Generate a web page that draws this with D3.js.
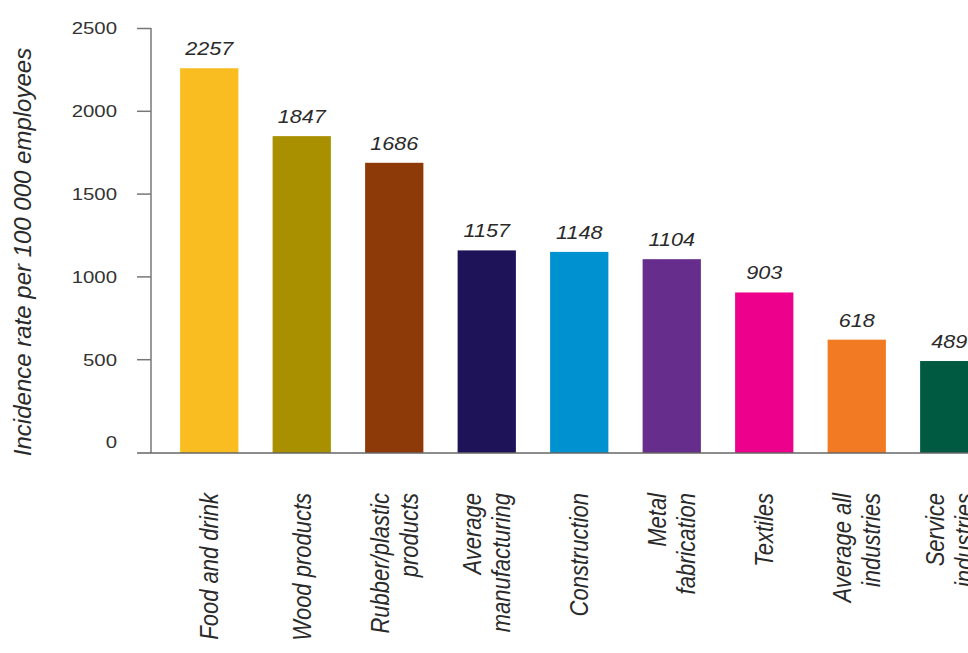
<!DOCTYPE html>
<html>
<head>
<meta charset="utf-8">
<script src="https://cdn.jsdelivr.net/npm/d3@7"></script>
<style>
  body { margin: 0; background: #fff; }
  svg text { font-family: "Liberation Sans", Arial, sans-serif; fill: #2a2a2a; }
</style>
</head>
<body>
<div id="vis"></div>
<script>
// chart data
const categories = ["Food and drink", "Wood products", "Rubber/plastic\nproducts", "Average\nmanufacturing",
  "Construction", "Metal\nfabrication", "Textiles", "Average all\nindustries", "Service\nindustries"]
const values = [2257, 1847, 1686, 1157, 1148, 1104, 903, 618, 489]
const colors = ["#f9bd22", "#a89000", "#8e3a08", "#1e1258", "#0092d0", "#662d8c", "#ec008c", "#f17a22", "#005a42"]
const yTicks = [0, 500, 1000, 1500, 2000, 2500]
const yTitle = "Incidence rate per 100 000 employees"

const width = 968
const height = 653
const baseY = 453   // where the baseline is drawn
const axisX = 151

const svg = d3.select("#vis")
  .append("svg")
  .attr("width", width)
  .attr("height", height)

// scales
const x = d3.scaleBand()
  .domain(categories)
  .range([163, 995.5])
  .paddingInner(0.37)
  .paddingOuter(0.185)

const y = d3.scaleLinear()
  .domain([0, 2500])
  .range([442, 28])

// bars
svg.selectAll(".bar")
  .data(values)
  .enter()
  .append("rect")
  .attr("class", "bar")
  .attr("x", (d, i) => x(categories[i]))
  .attr("width", x.bandwidth())
  .attr("y", d => y(d))
  .attr("height", d => baseY - y(d))
  .attr("fill", (d, i) => colors[i])

// value labels on top of bars
svg.selectAll(".val")
  .data(values)
  .enter()
  .append("text")
  .attr("class", "val")
  .attr("transform", (d, i) => `translate(${x(categories[i]) + x.bandwidth() / 2}, ${y(d) - 13}) scale(1.2,1)`)
  .attr("text-anchor", "middle")
  .style("font-size", "18px")
  .style("font-style", "italic")
  .text(d => d)

// y axis
const yAxis = svg.append("g")
  .attr("transform", `translate(${axisX},0)`)
  .call(d3.axisLeft(y).tickValues(yTicks).tickSize(14).tickPadding(0).tickFormat(d3.format("d")))

yAxis.select(".domain").remove()
yAxis.selectAll(".tick line").attr("stroke", "#777").attr("stroke-width", 1.5)
yAxis.selectAll(".tick").filter(d => d === 0).select("line").remove()
yAxis.selectAll(".tick text")
  .attr("x", null)
  .attr("dy", null)
  .attr("transform", "translate(-34,0) scale(1.2,1)")
  .attr("dominant-baseline", "central")
  .style("font-size", "17px")
  .style("fill", "#333")

// vertical axis line
svg.append("line")
  .attr("x1", axisX).attr("x2", axisX)
  .attr("y1", y(2500)).attr("y2", baseY)
  .attr("stroke", "#777")
  .attr("stroke-width", 1.5)

// baseline
svg.append("line")
  .attr("x1", 137).attr("x2", width)
  .attr("y1", baseY).attr("y2", baseY)
  .attr("stroke", "#666")
  .attr("stroke-width", 1.5)

// category labels, rotated
categories.forEach((c, i) => {
  const lines = c.split("\n")
  const cx = x(c) + x.bandwidth() / 2
  lines.forEach((line, j) => {
    svg.append("text")
      .attr("transform", `translate(${cx + (j - (lines.length - 1) / 2) * 29}, 493) rotate(-90) scale(1,1.15)`)
      .attr("text-anchor", "end")
      .attr("dy", "0.35em")
      .style("font-size", "22px")
      .style("font-style", "italic")
      .text(line)
  })
})

// y title
svg.append("text")
  .attr("transform", "translate(23, 252) rotate(-90)")
  .attr("text-anchor", "middle")
  .attr("dy", "0.35em")
  .style("font-size", "24px")
  .style("font-style", "italic")
  .text(yTitle)
</script>
</body>
</html>
